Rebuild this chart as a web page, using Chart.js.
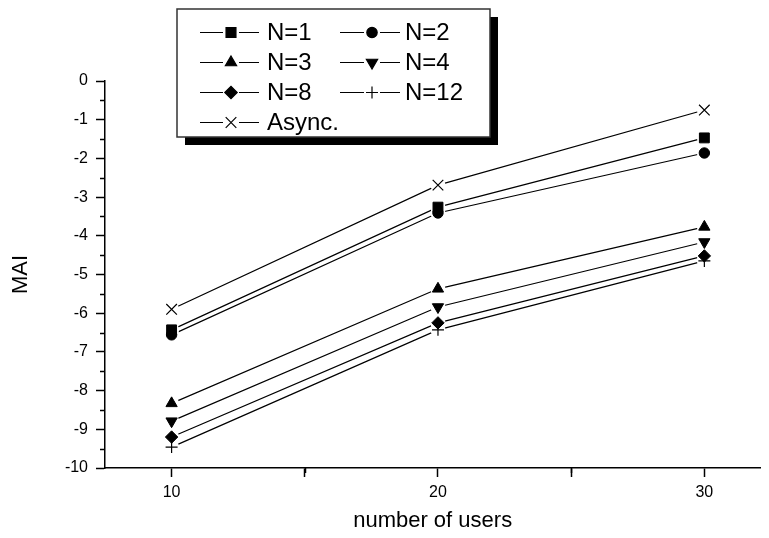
<!DOCTYPE html>
<html><head><meta charset="utf-8">
<script src="https://cdn.jsdelivr.net/npm/chart.js@4.4.0/dist/chart.umd.min.js"></script>
<style>html,body{margin:0;padding:0;background:#fff;overflow:hidden}#wrap{width:769px;height:538px}</style>
</head><body><div id="wrap"><canvas id="c" width="769" height="538"></canvas></div>
<script>
// ---- data ----
const users = [10, 20, 30];
const seriesLabels = ['N=1', 'N=2', 'N=3', 'N=4', 'N=8', 'N=12', 'Async.'];
const n1 = [-6.43, -3.26, -1.47];
const n2 = [-6.56, -3.41, -1.86];
const n3 = [-8.33, -5.37, -3.77];
const n4 = [-8.79, -5.84, -4.16];
const n8 = [-9.20, -6.25, -4.52];
const n12 = [-9.46, -6.43, -4.65];
const nAsync = [-5.90, -2.69, -0.75];
const xTicks = [10, 15, 20, 25, 30];
const xTickLabels = ['10', '', '20', '', '30'];
const yTicks = [0, -1, -2, -3, -4, -5, -6, -7, -8, -9, -10];
const yTickLabels = ['0', '-1', '-2', '-3', '-4', '-5', '-6', '-7', '-8', '-9', '-10'];
const yMinorTicks = [-0.5, -1.5, -2.5, -3.5, -4.5, -5.5, -6.5, -7.5, -8.5, -9.5];
const xMinorTicks = [15, 25];

const allSeries = [n1, n2, n3, n4, n8, n12, nAsync];
const styles = [
  {pointStyle: 'rect', radius: 7, rotation: 0, bw: 1},
  {pointStyle: 'circle', radius: 5.2, rotation: 0, bw: 1},
  {pointStyle: 'triangle', radius: 6.5, rotation: 0, bw: 1},
  {pointStyle: 'triangle', radius: 6.5, rotation: 180, bw: 1},
  {pointStyle: 'rectRot', radius: 6.2, rotation: 0, bw: 1},
  {pointStyle: 'cross', radius: 6, rotation: 0, bw: 1.2},
  {pointStyle: 'crossRot', radius: 7.5, rotation: 0, bw: 1.2}
];

const FONT = "'Liberation Sans', Arial, sans-serif";

// line datasets (drawn first), white gap halos, then markers on top
const lineSets = allSeries.map((vals, i) => ({
  label: seriesLabels[i],
  data: users.map((u, j) => ({x: u, y: vals[j]})),
  borderColor: '#000',
  borderWidth: 1.2,
  pointRadius: 0,
  tension: 0,
  fill: false,
  order: 3
}));
const haloSets = allSeries.map((vals, i) => ({
  label: seriesLabels[i] + ' gap',
  data: users.map((u, j) => ({x: u, y: vals[j]})),
  showLine: false,
  pointStyle: 'circle',
  pointRadius: 7.5,
  pointBorderWidth: 0,
  pointBackgroundColor: '#fff',
  pointBorderColor: '#fff',
  order: 2
}));
const markerSets = allSeries.map((vals, i) => ({
  label: seriesLabels[i] + ' marker',
  data: users.map((u, j) => ({x: u, y: vals[j]})),
  showLine: false,
  pointStyle: styles[i].pointStyle,
  pointRadius: styles[i].radius,
  pointRotation: styles[i].rotation,
  pointBackgroundColor: '#000',
  pointBorderColor: '#000',
  pointBorderWidth: styles[i].bw,
  order: 1
}));
const datasets = lineSets.concat(haloSets, markerSets);

const minorTicksPlugin = {
  id: 'minorTicks',
  afterDraw(chart) {
    const ctx = chart.ctx, xs = chart.scales.x, ys = chart.scales.y;
    ctx.save();
    ctx.strokeStyle = '#000';
    ctx.lineWidth = 1.5;
    ctx.beginPath();
    yMinorTicks.forEach(v => {
      const py = Math.round(ys.getPixelForValue(v)) + 0.5;
      ctx.moveTo(xs.left, py); ctx.lineTo(xs.left - 5, py);
    });
    xMinorTicks.forEach(v => {
      const px = Math.round(xs.getPixelForValue(v)) + 0.5;
      ctx.moveTo(px, ys.bottom); ctx.lineTo(px, ys.bottom + 5);
    });
    ctx.stroke();
    ctx.restore();
  }
};

function drawMarker(ctx, st, x, y) {
  if (Chart.helpers && Chart.helpers.drawPoint) {
    Chart.helpers.drawPoint(ctx, {pointStyle: st.pointStyle, radius: st.radius, rotation: st.rotation, borderWidth: st.bw}, x, y);
  }
}

const legendPlugin = {
  id: 'boxLegend',
  afterDraw(chart) {
    const ctx = chart.ctx;
    const L = 177, T = 9, R = 490, B = 137, sh = 8;
    ctx.save();
    ctx.fillStyle = '#000';
    ctx.fillRect(L + sh, T + sh, R - L, B - T);
    ctx.fillStyle = '#fff';
    ctx.fillRect(L, T, R - L, B - T);
    ctx.strokeStyle = '#333';
    ctx.lineWidth = 1.5;
    ctx.strokeRect(L, T, R - L, B - T);
    const rows = [32, 62, 92, 122];
    const cols = [{x0: 200, x1: 259, m: 231, t: 267}, {x0: 340, x1: 400, m: 372, t: 405}];
    ctx.font = '24px ' + FONT;
    ctx.textBaseline = 'middle';
    ctx.textAlign = 'left';
    seriesLabels.forEach((label, i) => {
      const c = cols[i % 2], y = rows[Math.floor(i / 2)];
      ctx.strokeStyle = '#000';
      ctx.lineWidth = 1.2;
      ctx.beginPath();
      ctx.moveTo(c.x0, y + 0.5); ctx.lineTo(c.m - 8, y + 0.5);
      ctx.moveTo(c.m + 8, y + 0.5); ctx.lineTo(c.x1, y + 0.5);
      ctx.stroke();
      ctx.fillStyle = '#000';
      ctx.strokeStyle = '#000';
      drawMarker(ctx, styles[i], c.m, y + 0.5);
      ctx.fillStyle = '#000';
      ctx.fillText(label, c.t, y + 1);
    });
    ctx.restore();
  }
};

new Chart(document.getElementById('c'), {
  type: 'line',
  data: {datasets},
  options: {
    responsive: false,
    animation: false,
    events: [],
    layout: {padding: {left: 0, top: 81, right: 0, bottom: 0}},
    plugins: {legend: {display: false}, tooltip: {enabled: false}},
    scales: {
      x: {
        type: 'linear', min: 7.5, max: 32.1,
        afterBuildTicks: s => { s.ticks = xTicks.map(v => ({value: v})); },
        afterFit: s => { s.height = 70; },
        ticks: {
          callback: v => xTickLabels[xTicks.indexOf(v)],
          font: {family: FONT, size: 16}, color: '#000', padding: 6, maxRotation: 0, autoSkip: false
        },
        grid: {drawOnChartArea: false, drawTicks: true, tickLength: 9, tickColor: '#000', tickWidth: 1.5},
        border: {color: '#000', width: 1.5},
        title: {display: true, text: 'number of users', font: {family: FONT, size: 22}, color: '#000', padding: {top: 0, bottom: 4}}
      },
      y: {
        type: 'linear', min: -10, max: 0,
        afterBuildTicks: s => { s.ticks = yTicks.map(v => ({value: v})); },
        afterFit: s => { s.width = 105; },
        ticks: {
          callback: v => yTickLabels[yTicks.indexOf(v)],
          font: {family: FONT, size: 16}, color: '#000', padding: 8, autoSkip: false
        },
        grid: {drawOnChartArea: false, drawTicks: true, tickLength: 9, tickColor: '#000', tickWidth: 1.5},
        border: {color: '#000', width: 1.5},
        title: {display: true, text: 'MAI', font: {family: FONT, size: 22}, color: '#000', padding: {top: 8, bottom: 0}}
      }
    }
  },
  plugins: [minorTicksPlugin, legendPlugin]
});
</script>
</body></html>
